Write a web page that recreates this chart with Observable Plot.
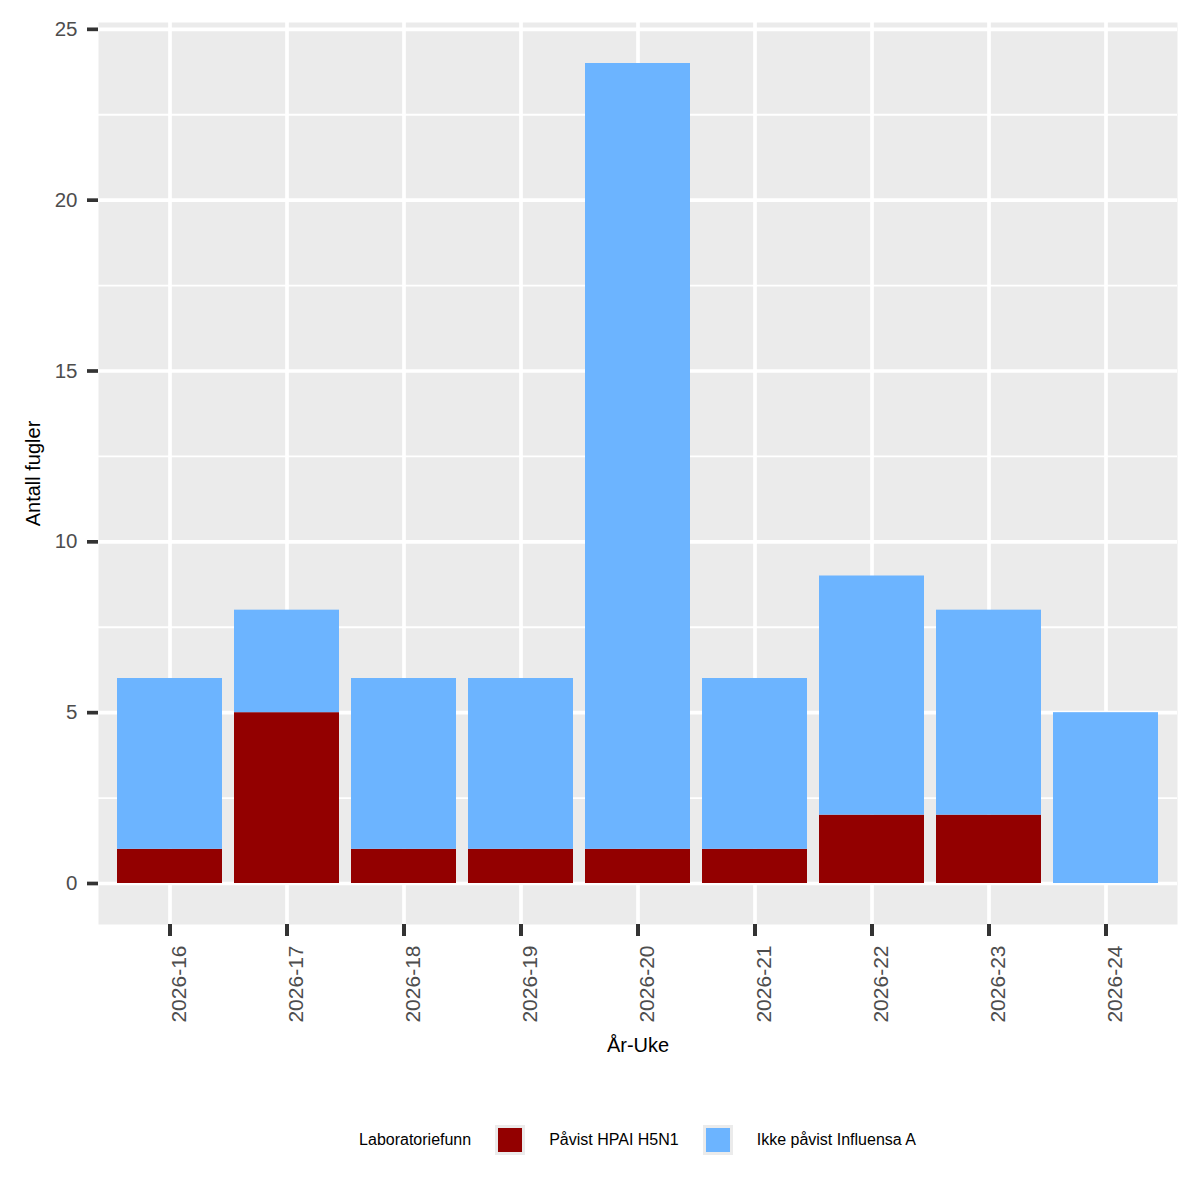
<!DOCTYPE html>
<html><head><meta charset="utf-8">
<script src="https://cdn.jsdelivr.net/npm/d3@7"></script>
<script src="https://cdn.jsdelivr.net/npm/@observablehq/plot@0.6"></script>
<style>
body{margin:0;background:#fff;font-family:"Liberation Sans",Arial,sans-serif;}
#chart svg{display:block;}
#legend{display:flex;align-items:center;justify-content:center;gap:24px;margin-left:98px;width:1079px;margin-top:25px;height:30px;font-size:16px;color:#000;}
.key{width:30px;height:30px;background:#EBEBEB;display:flex;align-items:center;justify-content:center;}
.key span{width:24px;height:24px;display:block;}
</style></head><body>
<div id="chart"></div>
<div id="legend"></div>
<script>
const weeks = ["2026-16","2026-17","2026-18","2026-19","2026-20","2026-21","2026-22","2026-23","2026-24"];
const pavist = [1,5,1,1,1,1,2,2,0];
const ikkePavist = [5,3,5,5,23,5,7,6,5];
const seriesNames = ["Påvist HPAI H5N1","Ikke påvist Influensa A"];
const seriesColors = ["#930000","#6CB4FF"];
const yTicks = [0,5,10,15,20,25];
const yMinor = [2.5,7.5,12.5,17.5,22.5];
const xTitle = "År-Uke";
const yTitle = "Antall fugler";
const legendTitle = "Laboratoriefunn";

const rows = [];
weeks.forEach((w,i) => {
  rows.push({week: w, series: seriesNames[0], value: pavist[i]});
  rows.push({week: w, series: seriesNames[1], value: ikkePavist[i]});
});

const chart = Plot.plot({
  width: 1200,
  height: 1100,
  marginTop: 22,
  marginBottom: 176,
  marginLeft: 98,
  marginRight: 23,
  style: {fontFamily: '"Liberation Sans", Arial, sans-serif', background: "#fff"},
  x: {type: "band", domain: weeks, paddingInner: 0.1, paddingOuter: 0.15, label: null},
  y: {domain: [-1.2, 25.2], label: null},
  color: {domain: seriesNames, range: seriesColors},
  marks: [
    Plot.frame({fill: "#EBEBEB", stroke: null}),
    Plot.gridY(yMinor, {stroke: "#fff", strokeOpacity: 1, strokeWidth: 1.85}),
    Plot.gridY(yTicks, {stroke: "#fff", strokeOpacity: 1, strokeWidth: 3.7}),
    Plot.gridX(weeks, {stroke: "#fff", strokeOpacity: 1, strokeWidth: 3.7}),
    Plot.barY(rows.filter(d => d.value > 0), {x: "week", y: "value", fill: "series"}),
    Plot.axisY(yTicks, {tickSize: 11, tickPadding: 10, strokeWidth: 3.7, stroke: "#333333", fill: "#4D4D4D", fontSize: 20.5, label: null}),
    Plot.axisX(weeks, {tickSize: 12, strokeWidth: 4, stroke: "#333333", fill: "none", fontSize: 21, label: null}),
    Plot.axisX(weeks, {tickSize: 0, tickPadding: 21, fill: "#4D4D4D", fontSize: 21, tickRotate: -90, textAnchor: "end", lineAnchor: "middle", dx: 9, label: null}),
    Plot.text([xTitle], {frameAnchor: "bottom", dy: 121.5, lineAnchor: "middle", textAnchor: "middle", fontSize: 20, fill: "#000", text: d => d}),
    Plot.text([yTitle], {frameAnchor: "left", dx: -65, rotate: -90, textAnchor: "middle", lineAnchor: "middle", fontSize: 20, fill: "#000", text: d => d})
  ]
});
document.getElementById("chart").appendChild(chart);

const legend = document.getElementById("legend");
const t = document.createElement("div");
t.textContent = legendTitle;
legend.appendChild(t);
seriesNames.forEach((name, i) => {
  const k = document.createElement("div");
  k.className = "key";
  const s = document.createElement("span");
  s.style.background = seriesColors[i];
  k.appendChild(s);
  legend.appendChild(k);
  const l = document.createElement("div");
  l.textContent = name;
  legend.appendChild(l);
});
</script>
</body></html>
